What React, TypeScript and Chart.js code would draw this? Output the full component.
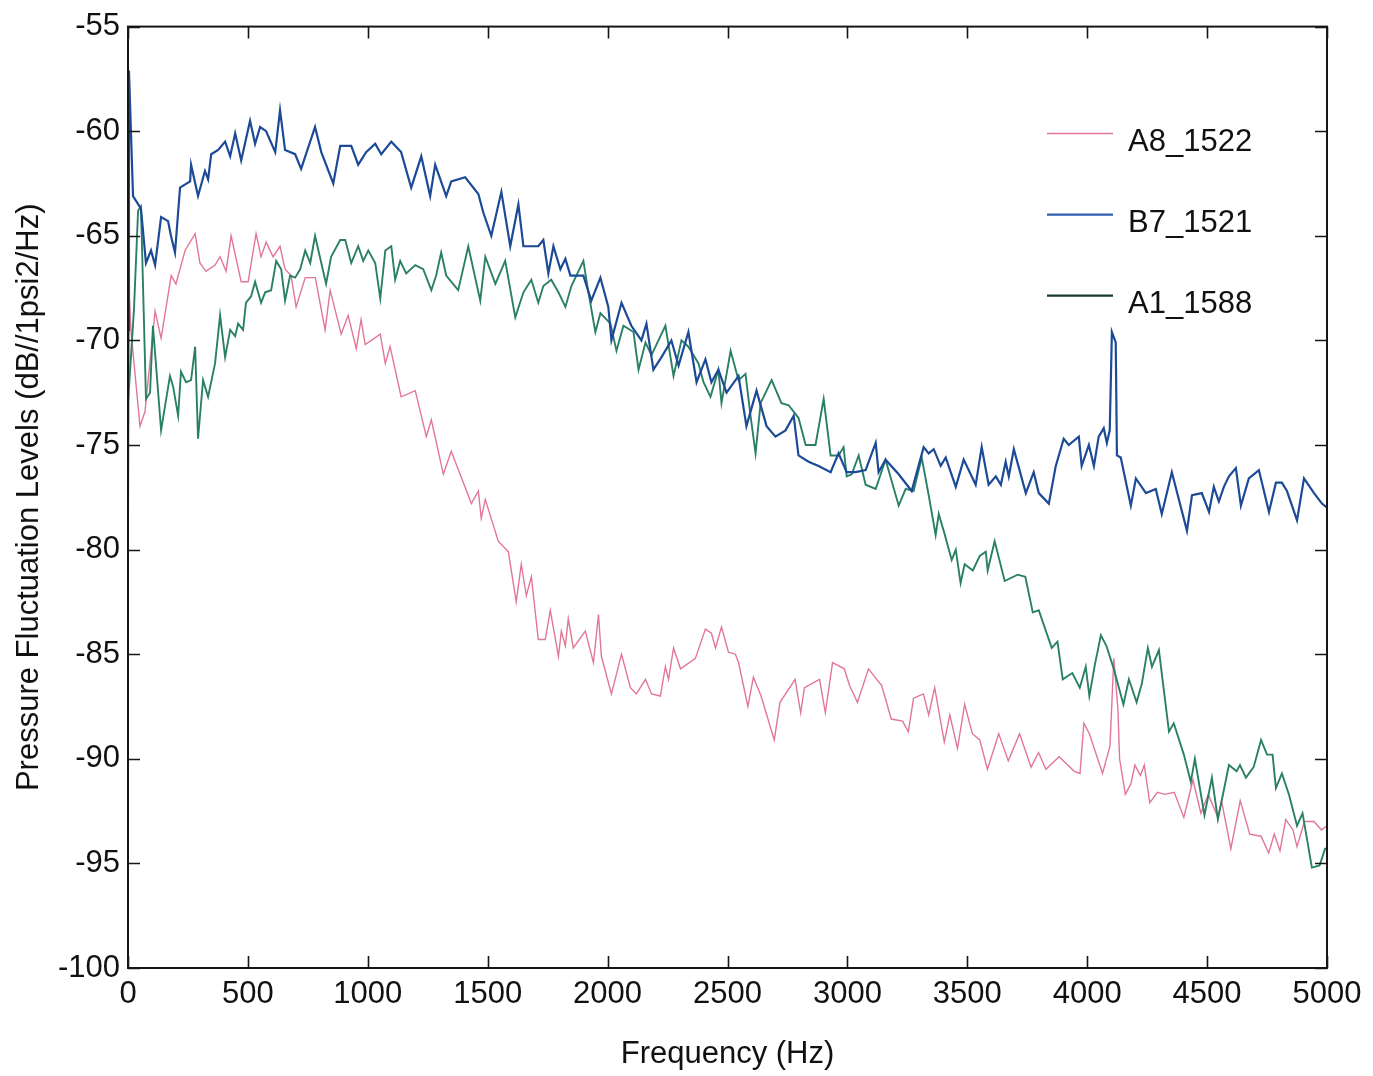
import React, { useEffect, useRef } from 'react';
import { Chart, registerables } from 'chart.js';

Chart.register(...registerables);

// ---- data ----
const seriesNames = ['A8_1522', 'B7_1521', 'A1_1588'];

const a8Freq = [0, 6, 12, 50, 71, 113, 138, 180, 200, 238, 280, 300, 325, 363, 384, 409, 430, 472, 501, 534, 555, 576, 605, 634, 655, 680, 701, 739, 781, 822, 843, 889, 918, 952, 972, 989, 1052, 1073, 1093, 1139, 1198, 1244, 1265, 1315, 1348, 1432, 1461, 1473, 1490, 1544, 1586, 1619, 1640, 1661, 1682, 1711, 1740, 1761, 1795, 1807, 1824, 1836, 1857, 1907, 1941, 1962, 1974, 2016, 2058, 2095, 2120, 2158, 2183, 2220, 2241, 2254, 2275, 2304, 2366, 2408, 2433, 2450, 2475, 2504, 2533, 2546, 2585, 2608, 2640, 2695, 2719, 2782, 2805, 2821, 2884, 2908, 2938, 2987, 3009, 3042, 3088, 3143, 3183, 3230, 3254, 3276, 3317, 3339, 3364, 3404, 3427, 3459, 3489, 3521, 3552, 3584, 3631, 3671, 3718, 3766, 3797, 3828, 3883, 3946, 3970, 3986, 4009, 4064, 4095, 4111, 4128, 4135, 4159, 4182, 4199, 4222, 4238, 4261, 4293, 4324, 4363, 4403, 4441, 4474, 4505, 4545, 4560, 4599, 4638, 4678, 4725, 4757, 4780, 4804, 4828, 4858, 4875, 4906, 4946, 4977, 5000];
const a8Level = [-81.3, -68.0, -69.5, -74.1, -73.4, -68.6, -69.9, -66.9, -67.3, -65.7, -64.9, -66.3, -66.7, -66.4, -66.0, -66.7, -65.0, -67.2, -67.2, -64.9, -66.0, -65.3, -66.0, -65.5, -66.6, -66.9, -68.4, -67.0, -67.0, -69.5, -67.6, -69.7, -68.8, -70.4, -69.0, -70.2, -69.7, -71.1, -70.3, -72.7, -72.4, -74.6, -73.8, -76.4, -75.3, -77.8, -77.2, -78.5, -77.6, -79.6, -80.1, -82.5, -80.7, -82.2, -81.3, -84.3, -84.3, -82.9, -85.1, -83.9, -84.6, -83.3, -84.7, -83.9, -85.4, -83.1, -85.1, -86.9, -85.0, -86.6, -86.9, -86.2, -86.9, -87.0, -85.6, -86.2, -84.7, -85.7, -85.2, -83.8, -84.0, -84.7, -83.7, -84.9, -85.0, -85.4, -87.5, -86.1, -87.0, -89.1, -87.3, -86.2, -87.8, -86.6, -86.2, -87.8, -85.4, -85.7, -86.5, -87.3, -85.7, -86.5, -88.1, -88.2, -88.7, -87.1, -86.9, -87.9, -86.6, -89.2, -87.9, -89.5, -87.4, -88.8, -89.1, -90.5, -88.8, -90.1, -88.8, -90.4, -89.7, -90.5, -89.9, -90.6, -90.7, -88.3, -88.8, -90.7, -89.4, -85.2, -87.6, -90.0, -91.7, -91.2, -90.3, -90.8, -90.3, -92.1, -91.6, -91.7, -91.6, -92.8, -91.0, -92.6, -91.7, -92.8, -92.0, -94.3, -92.0, -93.6, -93.7, -94.5, -93.6, -94.4, -92.9, -93.4, -94.2, -93.0, -93.0, -93.4, -93.2];

const b7Freq = [0, 4, 21, 54, 75, 96, 113, 138, 167, 179, 196, 217, 259, 263, 292, 321, 334, 347, 376, 405, 426, 447, 472, 509, 530, 551, 576, 614, 634, 655, 697, 722, 780, 806, 856, 885, 931, 960, 993, 1031, 1056, 1098, 1139, 1181, 1223, 1260, 1281, 1327, 1348, 1406, 1461, 1482, 1515, 1557, 1594, 1628, 1649, 1690, 1711, 1732, 1753, 1774, 1803, 1824, 1845, 1899, 1932, 1970, 2003, 2016, 2058, 2099, 2141, 2162, 2191, 2225, 2266, 2296, 2337, 2371, 2408, 2433, 2462, 2496, 2546, 2579, 2621, 2663, 2700, 2742, 2776, 2796, 2838, 2880, 2930, 2963, 2997, 3034, 3076, 3118, 3130, 3159, 3214, 3268, 3318, 3339, 3360, 3389, 3410, 3452, 3485, 3535, 3560, 3589, 3619, 3640, 3660, 3673, 3694, 3744, 3777, 3798, 3840, 3869, 3902, 3923, 3965, 3977, 4007, 4028, 4048, 4069, 4082, 4094, 4103, 4119, 4124, 4140, 4182, 4203, 4245, 4286, 4311, 4353, 4416, 4437, 4478, 4508, 4528, 4549, 4570, 4591, 4620, 4641, 4674, 4716, 4758, 4787, 4812, 4833, 4875, 4904, 4946, 4979, 5000];
const b7Level = [-69.5, -57.1, -63.1, -63.7, -66.3, -65.7, -66.4, -64.1, -64.3, -65.0, -65.8, -62.7, -62.4, -61.6, -63.1, -61.9, -62.3, -61.1, -60.9, -60.5, -61.2, -60.1, -61.4, -59.5, -60.6, -59.8, -60.0, -61.0, -59.0, -60.9, -61.1, -61.8, -59.8, -61.0, -62.5, -60.7, -60.7, -61.6, -61.0, -60.6, -61.1, -60.5, -61.0, -62.7, -61.2, -63.1, -61.6, -63.1, -62.4, -62.2, -63.0, -63.9, -65.0, -62.9, -65.5, -63.5, -65.5, -65.5, -65.5, -65.2, -66.8, -65.5, -66.6, -66.1, -66.9, -66.9, -68.1, -67.0, -68.4, -70.0, -68.2, -69.3, -70.0, -69.2, -71.4, -70.8, -70.0, -71.2, -69.6, -72.0, -70.9, -72.0, -71.4, -72.5, -71.7, -74.1, -72.4, -74.1, -74.6, -74.3, -73.6, -75.5, -75.8, -76.0, -76.3, -75.4, -76.3, -76.3, -76.2, -74.9, -76.3, -75.7, -76.4, -77.2, -75.1, -75.4, -75.2, -76.0, -75.6, -77.0, -75.7, -76.9, -75.1, -76.9, -76.5, -76.9, -75.8, -76.5, -75.2, -77.3, -76.3, -77.3, -77.8, -76.0, -74.7, -75.0, -74.6, -76.0, -75.0, -76.0, -74.6, -74.2, -74.9, -74.3, -69.6, -70.1, -75.5, -75.6, -77.9, -76.6, -77.3, -77.1, -78.3, -76.3, -79.1, -77.4, -77.3, -78.2, -77.0, -77.7, -77.0, -76.5, -76.1, -77.9, -76.6, -76.2, -78.2, -76.8, -76.8, -77.2, -78.6, -76.6, -77.3, -77.8, -78.0];

const a1Freq = [0, 25, 42, 54, 75, 92, 104, 138, 175, 188, 209, 221, 242, 263, 280, 292, 313, 334, 363, 384, 405, 426, 447, 459, 480, 492, 513, 530, 555, 572, 597, 618, 639, 655, 676, 697, 718, 739, 760, 780, 806, 826, 847, 885, 906, 931, 960, 981, 1002, 1031, 1052, 1073, 1098, 1114, 1135, 1160, 1198, 1231, 1265, 1285, 1306, 1327, 1377, 1419, 1469, 1490, 1532, 1573, 1615, 1649, 1682, 1711, 1732, 1765, 1795, 1824, 1849, 1899, 1920, 1949, 1970, 2012, 2037, 2066, 2108, 2129, 2158, 2183, 2241, 2275, 2308, 2337, 2379, 2400, 2429, 2462, 2475, 2513, 2546, 2575, 2596, 2617, 2638, 2684, 2725, 2755, 2796, 2826, 2867, 2901, 2930, 2963, 2984, 2997, 3018, 3047, 3076, 3118, 3159, 3214, 3243, 3276, 3310, 3339, 3368, 3381, 3404, 3435, 3452, 3472, 3489, 3523, 3552, 3577, 3585, 3614, 3656, 3710, 3742, 3773, 3798, 3852, 3876, 3898, 3938, 3969, 3994, 4009, 4032, 4057, 4080, 4111, 4151, 4174, 4206, 4228, 4253, 4270, 4299, 4341, 4361, 4403, 4432, 4449, 4489, 4520, 4545, 4591, 4623, 4637, 4662, 4694, 4725, 4750, 4773, 4787, 4812, 4841, 4875, 4898, 4937, 4969, 4992, 5000];
const a1Level = [-73.0, -68.5, -63.8, -63.6, -72.8, -72.5, -69.3, -74.3, -71.7, -72.2, -73.6, -71.5, -72.0, -71.9, -70.3, -74.7, -71.9, -72.7, -71.1, -68.8, -70.8, -69.5, -69.8, -69.2, -69.5, -68.2, -67.9, -67.2, -68.2, -67.7, -67.6, -66.2, -66.6, -68.1, -66.9, -67.0, -66.6, -65.7, -66.3, -65.0, -66.3, -67.3, -66.0, -65.2, -65.2, -66.3, -65.5, -66.2, -65.7, -66.3, -68.0, -65.7, -65.5, -67.1, -66.2, -66.8, -66.4, -66.6, -67.6, -66.9, -65.8, -66.9, -67.6, -65.5, -68.1, -66.0, -67.3, -66.2, -68.9, -67.7, -67.1, -68.2, -67.4, -67.1, -67.7, -68.4, -67.4, -66.2, -67.7, -69.6, -68.7, -69.2, -70.5, -69.3, -69.6, -71.4, -70.1, -70.7, -69.3, -71.7, -70.0, -70.3, -71.1, -72.0, -72.7, -71.4, -73.0, -70.5, -71.9, -71.6, -73.6, -75.4, -73.0, -71.9, -73.0, -73.1, -73.7, -75.0, -75.0, -72.8, -75.5, -75.5, -75.1, -76.5, -76.4, -75.5, -76.9, -77.1, -75.7, -77.9, -77.1, -77.2, -75.6, -77.4, -79.3, -78.3, -79.2, -80.5, -80.0, -81.6, -80.7, -81.0, -80.3, -80.1, -81.0, -79.6, -81.5, -81.2, -81.3, -83.0, -82.9, -84.7, -84.4, -86.2, -85.9, -86.6, -85.6, -87.0, -85.5, -84.1, -84.6, -85.7, -87.4, -86.2, -87.3, -86.4, -84.7, -85.6, -84.8, -88.7, -88.3, -89.8, -91.1, -90.0, -92.7, -90.9, -92.9, -90.3, -90.6, -90.3, -90.9, -90.4, -89.1, -89.8, -89.8, -91.4, -90.7, -91.7, -93.2, -92.6, -95.2, -95.1, -94.3, -94.3];

const xTickValues = [0, 500, 1000, 1500, 2000, 2500, 3000, 3500, 4000, 4500, 5000];
const yTickValues = [-100, -95, -90, -85, -80, -75, -70, -65, -60, -55];

const COLORS = { a8: '#e27795', b7: '#1d4a97', a1: '#2a8066' };
const LEGEND_LINE_COLORS = ['#e27795', '#2f5fb0', '#173d2e'];
const FONT = '"Liberation Sans", Arial, Helvetica, sans-serif';

const toPoints = (fs: number[], vs: number[]) => fs.map((f, i) => ({ x: f, y: vs[i] }));

const framePlugin = {
  id: 'frameAndLegend',
  afterDatasetsDraw(chart: any) {
    const { ctx, chartArea, scales } = chart;
    const { left, right, top, bottom } = chartArea;
    const xs = scales.x;
    const ys = scales.y;
    ctx.save();
    ctx.strokeStyle = '#161616';
    ctx.lineWidth = 2;
    ctx.strokeRect(left, top, right - left, bottom - top);
    ctx.lineWidth = 1.6;
    const tl = 12;
    xTickValues.forEach((v) => {
      const px = Math.round(xs.getPixelForValue(v)) + 0.5;
      ctx.beginPath();
      ctx.moveTo(px, bottom);
      ctx.lineTo(px, bottom - tl);
      ctx.moveTo(px, top);
      ctx.lineTo(px, top + tl);
      ctx.stroke();
    });
    yTickValues.forEach((v) => {
      const py = Math.round(ys.getPixelForValue(v)) + 0.5;
      ctx.beginPath();
      ctx.moveTo(left, py);
      ctx.lineTo(left + tl, py);
      ctx.moveTo(right, py);
      ctx.lineTo(right - tl, py);
      ctx.stroke();
    });
    // legend
    const lineX0 = right - 280;
    const lineX1 = right - 214;
    const textX = right - 199;
    const rows = [top + 107, top + 188, top + 269];
    ctx.font = `31px ${FONT}`;
    ctx.textAlign = 'left';
    ctx.textBaseline = 'alphabetic';
    seriesNames.forEach((name, i) => {
      ctx.strokeStyle = LEGEND_LINE_COLORS[i];
      ctx.lineWidth = i === 0 ? 1.5 : 2.2;
      ctx.beginPath();
      ctx.moveTo(lineX0, rows[i]);
      ctx.lineTo(lineX1, rows[i]);
      ctx.stroke();
      ctx.fillStyle = '#111';
      ctx.fillText(name, textX, rows[i] + 17);
    });
    ctx.restore();
  },
};

export default function App() {
  const canvasRef = useRef<HTMLCanvasElement | null>(null);

  useEffect(() => {
    document.body.style.margin = '0';
    const canvas = canvasRef.current;
    if (!canvas) return;
    const chart = new Chart(canvas, {
      type: 'line',
      data: {
        datasets: [
          {
            label: seriesNames[1],
            data: toPoints(b7Freq, b7Level),
            borderColor: COLORS.b7,
            borderWidth: 2.2,
            pointRadius: 0,
            tension: 0,
            fill: false,
          },
          {
            label: seriesNames[2],
            data: toPoints(a1Freq, a1Level),
            borderColor: COLORS.a1,
            borderWidth: 1.9,
            pointRadius: 0,
            tension: 0,
            fill: false,
          },
          {
            label: seriesNames[0],
            data: toPoints(a8Freq, a8Level),
            borderColor: COLORS.a8,
            borderWidth: 1.4,
            pointRadius: 0,
            tension: 0,
            fill: false,
          },
        ],
      },
      options: {
        responsive: false,
        animation: false,
        devicePixelRatio: 1,
        layout: { padding: { top: 22, right: 46, left: 0, bottom: 0 } },
        plugins: {
          legend: { display: false },
          tooltip: { enabled: false },
          title: { display: false },
        },
        scales: {
          x: {
            type: 'linear',
            min: 0,
            max: 5000,
            afterBuildTicks: (scale: any) => {
              scale.ticks = xTickValues.map((v) => ({ value: v }));
            },
            afterFit: (scale: any) => {
              scale.height = 108;
            },
            grid: { display: false, drawTicks: false },
            border: { display: false },
            ticks: {
              padding: 8,
              maxRotation: 0,
              autoSkip: false,
              color: '#111',
              font: { family: FONT, size: 31 },
              callback: (v: any) => String(v),
            },
            title: {
              display: true,
              text: 'Frequency (Hz)',
              color: '#111',
              font: { family: FONT, size: 31 },
              padding: { top: 0, bottom: 3 },
            },
          },
          y: {
            type: 'linear',
            min: -100,
            max: -55,
            afterBuildTicks: (scale: any) => {
              scale.ticks = yTickValues.map((v) => ({ value: v }));
            },
            afterFit: (scale: any) => {
              scale.width = 128;
            },
            grid: { display: false, drawTicks: false },
            border: { display: false },
            ticks: {
              padding: 8,
              autoSkip: false,
              color: '#111',
              font: { family: FONT, size: 31 },
              callback: (v: any) => String(v),
            },
            title: {
              display: true,
              text: 'Pressure Fluctuation Levels (dB//1psi2/Hz)',
              color: '#111',
              font: { family: FONT, size: 31 },
              padding: { top: 11, bottom: 0 },
            },
          },
        },
      },
      plugins: [framePlugin],
    } as any);
    return () => chart.destroy();
  }, []);

  return (
    <div style={{ position: 'absolute', left: 0, top: 0, width: 1373, height: 1076, background: '#fff' }}>
      <canvas ref={canvasRef} width={1373} height={1076} />
    </div>
  );
}
